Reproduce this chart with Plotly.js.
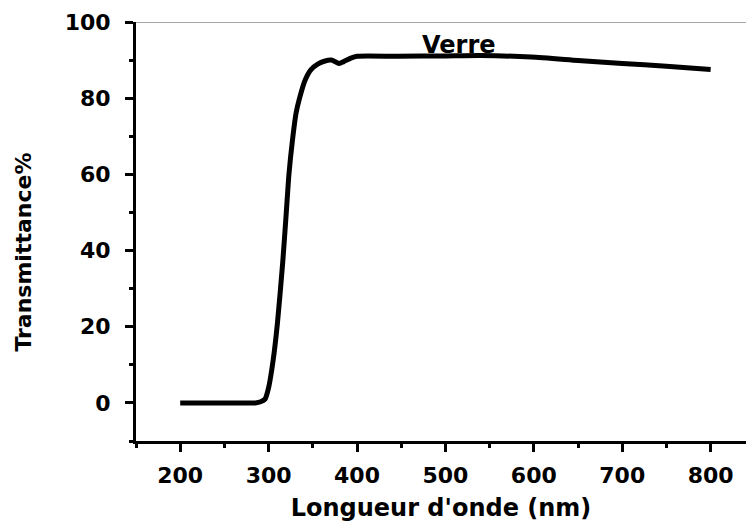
<!DOCTYPE html>
<html>
<head>
<meta charset="utf-8">
<script src="https://cdn.plot.ly/plotly-3.0.1.min.js"></script>
<style>html,body{margin:0;padding:0;background:#fff;}#chart{width:746px;height:524px;}</style>
</head>
<body>
<div id="chart"></div>
<script>
// Data
const wavelength = [200, 250, 285, 291, 296, 300, 305, 310, 316, 320, 323, 327, 331, 335, 341, 348, 356, 363, 371, 376, 380, 385, 393, 400, 446, 500, 540, 597, 650, 700, 750, 800];
const transmittance = [0, 0, 0, 0.3, 1, 4, 11, 21, 37, 50, 60, 69, 76, 80, 84.6, 87.5, 89, 89.7, 90, 89.5, 89.1, 89.6, 90.5, 91, 91, 91.1, 91.2, 90.8, 89.9, 89.1, 88.4, 87.5];
const seriesLabel = "Verre";
const xTitle = "Longueur d'onde (nm)";
const yTitle = "Transmittance%";

const FONT = "DejaVu Sans, Arial, sans-serif";

const trace = {
  x: wavelength, y: transmittance, type: 'scatter', mode: 'lines',
  line: {color: '#000', width: 5, shape: 'spline', smoothing: 0.6},
  name: seriesLabel, showlegend: false, hoverinfo: 'skip'
};

const layout = {
  width: 746, height: 524,
  margin: {l: 136, r: 0, t: 22, b: 83},
  paper_bgcolor: '#fff', plot_bgcolor: '#fff',
  font: {family: FONT, color: '#000', size: 22, weight: 'bold'},
  xaxis: {
    range: [150, 840], tick0: 200, dtick: 100,
    showgrid: false, zeroline: false,
    showline: true, linecolor: '#000', linewidth: 3,
    ticks: 'outside', ticklen: 8, tickwidth: 3, tickcolor: '#000',
    minor: {dtick: 50, ticks: 'outside', ticklen: 4, tickwidth: 3, tickcolor: '#000'},
    tickfont: {family: FONT, size: 22, color: '#000', weight: 'bold'},
    ticklabelstandoff: 5,
    title: {text: xTitle, font: {family: FONT, size: 24, color: '#000', weight: 'bold'}, standoff: 12}
  },
  yaxis: {
    range: [-10, 100], tick0: 0, dtick: 20,
    showgrid: false, zeroline: false,
    showline: true, linecolor: '#000', linewidth: 3,
    ticks: 'outside', ticklen: 8, tickwidth: 3, tickcolor: '#000',
    minor: {dtick: 10, ticks: 'outside', ticklen: 4, tickwidth: 3, tickcolor: '#000'},
    tickfont: {family: FONT, size: 22, color: '#000', weight: 'bold'},
    ticklabelstandoff: 10
  },
  shapes: [
    {type: 'line', xref: 'paper', yref: 'y', x0: 0, x1: 1, y0: 100, y1: 100,
     line: {color: '#888', width: 1.5}}
  ],
  annotations: [
    {text: seriesLabel, x: 515, y: 94, xref: 'x', yref: 'y', showarrow: false,
     font: {family: FONT, size: 24, color: '#000', weight: 'bold'}},
    {text: yTitle, xref: 'paper', yref: 'paper', x: -0.185, y: 0.45, xanchor: 'center', yanchor: 'middle',
     textangle: -90, showarrow: false,
     font: {family: FONT, size: 22, color: '#000', weight: 'bold'}}
  ]
};

Plotly.newPlot('chart', [trace], layout, {displayModeBar: false, staticPlot: true});
</script>
</body>
</html>
